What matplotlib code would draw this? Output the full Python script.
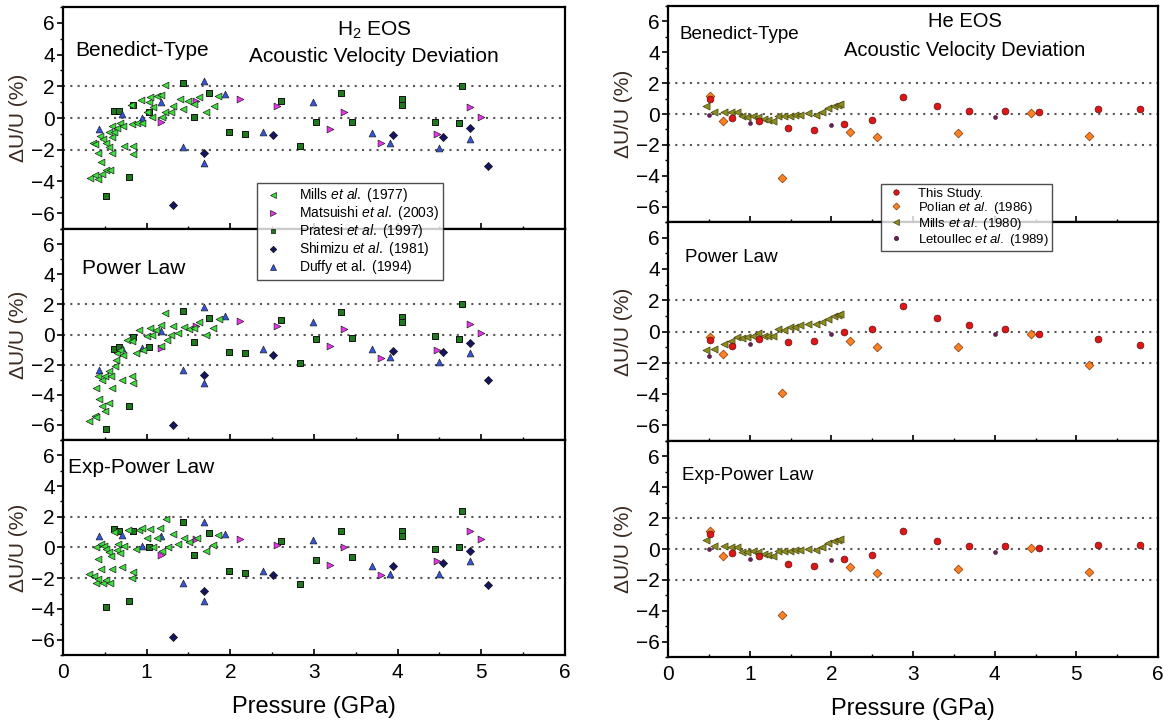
import matplotlib
matplotlib.use('Agg')
import matplotlib.pyplot as plt
from matplotlib.ticker import MultipleLocator
from matplotlib.lines import Line2D

plt.rcParams['font.family'] = ['Liberation Sans', 'DejaVu Sans']
plt.rcParams['mathtext.fontset'] = 'custom'
plt.rcParams['mathtext.rm'] = 'Liberation Sans'
plt.rcParams['mathtext.it'] = 'Liberation Sans:italic'

# ---- H2 data (pressure GPa, deviation %) ----
mills_p_bt = [0.32,0.36,0.38,0.38,0.42,0.42,0.44,0.45,0.47,0.48,0.51,0.52,0.55,0.55,0.56,0.58,0.59,0.59,0.61,0.65,
              0.68,0.72,0.73,0.81,0.82,0.84,0.84,0.88,0.93,0.95,1.0,1.03,1.04,1.06,1.08,1.12,1.17,1.18,1.22,1.22,
              1.29,1.31,1.4,1.44,1.49,1.56,1.62,1.71,1.8,1.85]
mills_dv_bt = [-3.8,-1.6,-3.6,-1.65,-3.85,-2.2,-1.15,-2.75,-3.5,-1.3,-1.55,-3.3,-1.85,-0.9,-3.3,-1.2,-2.2,-0.48,-0.9,-0.6,
               -0.3,-0.5,-1.75,0.8,-0.35,-1.75,-2.25,-0.3,1.15,-0.3,0.36,1.0,1.3,0.05,0.67,1.4,1.45,0.05,2.1,0.36,
               0.36,0.78,1.2,0.57,1.1,0.88,1.3,0.36,0.78,1.4]
mills_p_pl = [0.31,0.38,0.40,0.39,0.43,0.47,0.50,0.55,0.42,0.47,0.50,0.55,0.57,0.59,0.62,0.63,0.65,0.68,0.72,0.71,
              0.83,0.84,0.77,0.82,0.87,0.91,0.96,1.0,1.04,1.06,1.11,1.17,1.17,1.22,1.24,1.29,1.31,1.37,1.45,1.51,
              1.57,1.62,1.71,1.79,1.87]
mills_dv_pl = [-5.74,-5.4,-5.45,-3.54,-4.3,-4.75,-5.08,-4.53,-2.77,-3.0,-2.73,-2.44,-2.77,-3.54,-2.1,-1.67,-1.23,-1.0,-1.34,-3.0,
               -2.77,-3.2,-0.35,-0.46,-1.23,0.3,-1.0,-0.1,0.4,-0.02,0.3,-0.75,0.64,1.4,-0.35,-0.02,0.57,0.1,0.53,0.35,
               0.42,0.86,-0.02,0.42,1.0]
mills_p_ep = [0.31,0.37,0.40,0.42,0.48,0.52,0.56,0.39,0.42,0.45,0.45,0.49,0.52,0.55,0.57,0.59,0.61,0.64,0.66,0.68,
              0.70,0.73,0.78,0.82,0.84,0.87,0.91,0.95,1.0,1.04,1.07,1.12,1.16,1.18,1.23,1.26,1.31,1.37,1.45,1.51,
              1.6,1.71,1.79,1.85]
mills_dv_ep = [-1.74,-1.85,-2.33,-2.07,-2.33,-2.11,-2.33,0.04,-0.72,-1.41,0.22,0.07,-0.11,-0.28,-0.54,-1.37,0.98,-0.15,0.22,-0.33,
               -1.3,0.11,1.13,-1.96,-1.59,-0.07,1.13,1.24,0.65,1.2,0.0,0.65,1.24,-0.22,1.85,0.0,0.87,0.22,0.59,0.33,
               0.65,-0.22,0.15,0.8]

mats_p = [1.17,1.59,2.12,2.56,3.19,3.36,3.8,4.47,4.86,5.0]
mats_bt = [-0.24,1.1,1.2,0.78,-0.7,0.4,-1.6,-1.0,0.67,0.04]
mats_pl = [-0.9,0.57,0.92,0.57,-0.75,0.35,-1.56,-1.0,0.7,0.09]
mats_ep = [-0.5,0.54,0.54,0.15,-1.15,0.0,-1.8,-0.87,1.09,0.54]

prat_p = [0.52,0.61,0.67,0.79,0.84,1.03,1.43,1.56,1.74,1.99,2.17,2.61,2.83,3.02,3.32,3.46,4.05,4.05,4.45,4.73,4.77]
prat_bt = [-4.9,0.42,0.42,-3.75,0.8,0.35,2.2,0.04,1.55,-0.86,-1.0,1.1,-1.75,-0.24,1.55,-0.24,1.2,0.82,-0.24,-0.32,2.0]
prat_pl = [-6.3,-0.97,-0.8,-4.75,-0.18,-0.8,1.58,-0.53,1.08,-1.19,-1.23,0.97,-1.89,-0.31,1.47,-0.24,1.19,0.86,-0.13,-0.29,2.02]
prat_ep = [-3.85,1.2,1.09,-3.48,1.09,0.0,1.67,-0.48,0.93,-1.52,-1.67,0.43,-2.39,-0.83,1.09,-0.61,1.09,0.72,-0.07,0.0,2.39]

shim_p = [1.31,1.68,2.51,3.95,4.54,4.87,5.08]
shim_bt = [-5.5,-2.2,-1.1,-1.1,-1.2,-0.65,-3.05]
shim_pl = [-6.02,-2.66,-1.34,-1.08,-1.19,-0.57,-2.99]
shim_ep = [-5.83,-2.83,-1.78,-1.2,-1.02,-0.22,-2.46]

duffy_p = [0.43,0.70,0.95,1.17,1.43,1.68,1.68,1.94,2.39,2.99,3.69,3.91,4.49,4.87]
duffy_bt = [-0.7,0.25,0.0,1.0,-1.85,2.35,-2.85,1.5,-0.86,1.0,-0.97,-1.55,-1.9,-1.3]
duffy_pl = [-2.37,-0.9,-0.9,0.24,-2.33,1.85,-3.25,1.23,-0.97,0.86,-0.95,-1.49,-1.85,-1.23]
duffy_ep = [0.72,0.8,0.11,0.72,-2.28,1.67,-3.48,0.87,-1.52,0.48,-1.2,-1.74,-1.74,-0.91]

# ---- He data ----
study_p = [0.52,0.78,1.11,1.47,1.79,2.15,2.5,2.88,3.29,3.69,4.12,4.54,5.26,5.78]
study_bt = [0.96,-0.26,-0.43,-0.92,-1.03,-0.64,-0.39,1.13,0.49,0.21,0.21,0.11,0.32,0.32]
study_pl = [-0.53,-0.9,-0.51,-0.64,-0.58,-0.04,0.17,1.63,0.86,0.39,0.17,-0.19,-0.47,-0.86]
study_ep = [0.97,-0.26,-0.48,-0.97,-1.08,-0.65,-0.41,1.15,0.5,0.19,0.19,0.06,0.26,0.26]

polian_p = [0.51,0.67,1.39,2.23,2.56,3.55,4.45,5.16]
polian_bt = [1.18,-0.47,-4.17,-1.18,-1.5,-1.24,0.06,-1.43]
polian_pl = [-0.36,-1.43,-3.96,-0.58,-1.0,-1.0,-0.19,-2.14]
polian_ep = [1.19,-0.48,-4.26,-1.17,-1.56,-1.3,0.06,-1.49]

mills80_p = [0.46,0.56,0.68,0.77,0.85,0.91,0.97,1.04,1.1,1.17,1.23,1.29,1.35,1.42,1.49,1.55,1.62,1.71,1.81,1.89,1.96,2.03,2.08,2.11]
mills80_bt = [0.53,0.15,0.15,0.11,0.15,-0.15,-0.21,-0.15,-0.17,-0.32,-0.36,-0.43,-0.11,-0.15,-0.11,-0.06,-0.04,0.04,-0.06,0.15,0.39,0.49,0.58,0.64]
mills80_pl = [-1.16,-1.1,-0.83,-0.62,-0.36,-0.4,-0.36,-0.26,-0.11,-0.26,-0.26,-0.26,0.17,0.11,0.28,0.32,0.39,0.45,0.45,0.6,0.81,0.96,1.07,1.13]
mills80_ep = [0.6,0.17,0.17,0.13,0.15,-0.17,-0.2,-0.15,-0.18,-0.33,-0.38,-0.45,-0.12,-0.15,-0.12,-0.07,-0.05,0.03,-0.07,0.15,0.38,0.5,0.58,0.62]

letou_p = [0.5,1.0,2.0,4.0]
letou_bt = [-0.06,-0.58,-0.7,-0.17]
letou_pl = [-1.58,-0.83,-0.15,-0.15]
letou_ep = [0.0,-0.65,-0.69,-0.22]

# marker styles
st_mills = dict(marker='<', c='#3be03b', s=24, edgecolors='#222222', linewidths=0.5)
st_mats = dict(marker='>', c='#f030f0', s=24, edgecolors='#222222', linewidths=0.5)
st_prat = dict(marker='s', c='#1f7a1f', s=20, edgecolors='#111111', linewidths=0.7)
st_shim = dict(marker='D', c='#15155e', s=17, edgecolors='#111111', linewidths=0.5)
st_duffy = dict(marker='^', c='#3355e0', s=24, edgecolors='#222222', linewidths=0.5)
st_study = dict(marker='o', c='#e01515', s=24, edgecolors='#5a1010', linewidths=0.5)
st_polian = dict(marker='D', c='#ff8020', s=20, edgecolors='#7a3a10', linewidths=0.5)
st_mills80 = dict(marker='<', c='#8c8c20', s=26, edgecolors='#444411', linewidths=0.5)
st_letou = dict(marker='o', c='#6a2050', s=8, edgecolors='#3a1030', linewidths=0.4)

fig = plt.figure(figsize=(11.64, 7.22), dpi=100)

lx, lw = 0.0541, 0.4313
rx, rw = 0.5739, 0.421
ax_l = [fig.add_axes([lx, 0.6828, lw, 0.3075]),
        fig.add_axes([lx, 0.3906, lw, 0.2922]),
        fig.add_axes([lx, 0.0928, lw, 0.2978])]
ax_r = [fig.add_axes([rx, 0.6925, rw, 0.2992]),
        fig.add_axes([rx, 0.3892, rw, 0.3033]),
        fig.add_axes([rx, 0.0900, rw, 0.2992])]


def style(ax, bottom):
    ax.set_xlim(0, 6)
    ax.set_ylim(-7, 7)
    ax.set_yticks([-6, -4, -2, 0, 2, 4, 6])
    ax.yaxis.set_minor_locator(MultipleLocator(1))
    ax.xaxis.set_major_locator(MultipleLocator(1))
    ax.xaxis.set_minor_locator(MultipleLocator(0.5))
    ax.tick_params(axis='y', which='major', direction='out', length=4, width=1.2, labelsize=15, pad=2)
    ax.tick_params(axis='y', which='minor', direction='out', length=2.5, width=1)
    ax.tick_params(axis='x', which='major', direction='in', length=4, width=1.2, labelsize=15, pad=6)
    ax.tick_params(axis='x', which='minor', direction='in', length=2.5, width=1)
    if not bottom:
        ax.tick_params(axis='x', labelbottom=False)
    for sp in ax.spines.values():
        sp.set_linewidth(1.6)
    for yv in (-2, 0, 2):
        ax.axhline(yv, color='#555555', ls=(0, (1, 2.5)), lw=1.5, zorder=1)
    ax.set_ylabel('ΔU/U (%)', fontsize=15, color='#3a2a22', labelpad=2)
    if bottom:
        ax.set_xlabel('Pressure (GPa)', fontsize=17, labelpad=10)


for i, ax in enumerate(ax_l):
    style(ax, i == 2)
for i, ax in enumerate(ax_r):
    style(ax, i == 2)

# H2 panels
h2_sets = [
    (mills_p_bt, mills_dv_bt, mats_bt, prat_bt, shim_bt, duffy_bt),
    (mills_p_pl, mills_dv_pl, mats_pl, prat_pl, shim_pl, duffy_pl),
    (mills_p_ep, mills_dv_ep, mats_ep, prat_ep, shim_ep, duffy_ep),
]
for ax, (mp, mv, ma, pr, sh, du) in zip(ax_l, h2_sets):
    ax.scatter(prat_p, pr, zorder=3, **st_prat)
    ax.scatter(shim_p, sh, zorder=3, **st_shim)
    ax.scatter(duffy_p, du, zorder=3, **st_duffy)
    ax.scatter(mats_p, ma, zorder=4, **st_mats)
    ax.scatter(mp, mv, zorder=4, **st_mills)

# He panels
he_sets = [
    (study_bt, polian_bt, mills80_bt, letou_bt),
    (study_pl, polian_pl, mills80_pl, letou_pl),
    (study_ep, polian_ep, mills80_ep, letou_ep),
]
for ax, (s, po, mi, le) in zip(ax_r, he_sets):
    ax.scatter(mills80_p, mi, zorder=3, **st_mills80)
    ax.scatter(polian_p, po, zorder=3, **st_polian)
    ax.scatter(study_p, s, zorder=4, **st_study)
    ax.scatter(letou_p, le, zorder=4, **st_letou)

# panel labels
ax_l[0].text(0.024, 0.806, 'Benedict-Type', transform=ax_l[0].transAxes, fontsize=15, va='center')
ax_l[0].text(0.62, 0.896, r'H$_\mathrm{2}$ EOS', transform=ax_l[0].transAxes, fontsize=15, ha='center', va='center')
ax_l[0].text(0.62, 0.775, 'Acoustic Velocity Deviation', transform=ax_l[0].transAxes, fontsize=15, ha='center', va='center')
ax_l[1].text(0.038, 0.815, 'Power Law', transform=ax_l[1].transAxes, fontsize=15, va='center')
ax_l[2].text(0.01, 0.874, 'Exp-Power Law', transform=ax_l[2].transAxes, fontsize=15, va='center')

ax_r[0].text(0.024, 0.87, 'Benedict-Type', transform=ax_r[0].transAxes, fontsize=13.5, va='center')
ax_r[0].text(0.606, 0.926, 'He EOS', transform=ax_r[0].transAxes, fontsize=14.5, ha='center', va='center')
ax_r[0].text(0.606, 0.796, 'Acoustic Velocity Deviation', transform=ax_r[0].transAxes, fontsize=14.5, ha='center', va='center')
ax_r[1].text(0.035, 0.836, 'Power Law', transform=ax_r[1].transAxes, fontsize=13.5, va='center')
ax_r[2].text(0.029, 0.838, 'Exp-Power Law', transform=ax_r[2].transAxes, fontsize=13.5, va='center')


def handle(st):
    return Line2D([], [], ls='none', marker=st['marker'], markerfacecolor=st['c'],
                  markeredgecolor=st['edgecolors'], markeredgewidth=0.5,
                  markersize=max(3, (st['s'] ** 0.5) * 0.8))


h2_handles = [handle(st_mills), handle(st_mats), handle(st_prat), handle(st_shim), handle(st_duffy)]
h2_labels = [r'Mills $\it{et\ al.}$ (1977)', r'Matsuishi $\it{et\ al.}$ (2003)', r'Pratesi $\it{et\ al.}$ (1997)',
             r'Shimizu $\it{et\ al.}$ (1981)', r'Duffy $\mathrm{et\ al.}$ (1994)']
lg1 = fig.legend(h2_handles, h2_labels, loc='upper left', bbox_to_anchor=(0.2208, 0.7465),
                 fontsize=10, frameon=True, fancybox=False, labelspacing=0.0, handletextpad=1.0,
                 borderpad=0.25, handlelength=1.8, borderaxespad=0)
lg1.get_frame().set_edgecolor('#222222')
lg1.get_frame().set_linewidth(1.0)

he_handles = [handle(st_study), handle(st_polian), handle(st_mills80), handle(st_letou)]
he_labels = [r'This Study.', r'Polian $\it{et\ al.}$ (1986)', r'Mills $\it{et\ al.}$ (1980)', r'Letoullec $\it{et\ al.}$ (1989)']
lg2 = fig.legend(he_handles, he_labels, loc='upper left', bbox_to_anchor=(0.7565, 0.7445),
                 fontsize=9.5, frameon=True, fancybox=False, labelspacing=0.0, handletextpad=0.8,
                 borderpad=0.25, handlelength=1.8, borderaxespad=0)
lg2.get_frame().set_edgecolor('#222222')
lg2.get_frame().set_linewidth(1.0)

fig.savefig('out.png', dpi=100)
